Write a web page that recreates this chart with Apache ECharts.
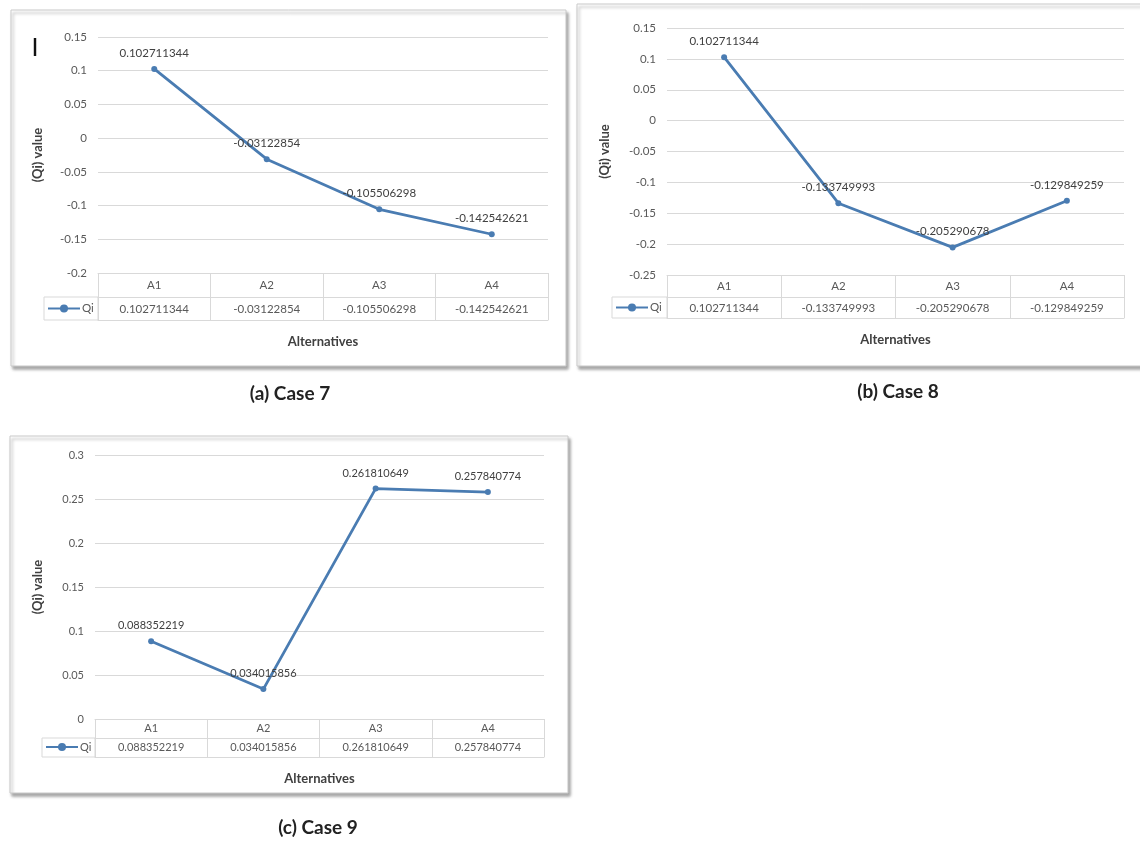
<!DOCTYPE html>
<html>
<head>
<meta charset="utf-8">
<title>Qi value by alternative</title>
<script src="https://cdn.jsdelivr.net/npm/echarts@6/dist/echarts.min.js"></script>
<style>
  html, body { margin: 0; padding: 0; background: #ffffff; }
  #chart { width: 1140px; height: 843px; }
</style>
</head>
<body>
<div id="chart"></div>
<script>
// Alternatives compared in every case
const categories = ['A1', 'A2', 'A3', 'A4'];

// Qi values per case
const qiCase7 = [0.102711344, -0.03122854, -0.105506298, -0.142542621];
const qiCase8 = [0.102711344, -0.133749993, -0.205290678, -0.129849259];
const qiCase9 = [0.088352219, 0.034015856, 0.261810649, 0.257840774];

// Value-axis ranges per case: [min, max, step]
const axisCase7 = [-0.2, 0.15, 0.05];
const axisCase8 = [-0.25, 0.15, 0.05];
const axisCase9 = [0, 0.3, 0.05];

// Panel captions
const captions = ['(a) Case 7', '(b) Case 8', '(c) Case 9'];
const seriesName = 'Qi';
const xTitle = 'Alternatives';
const yTitle = '(Qi) value';

const LINE = '#4a7cb2';
const GRIDC = '#d9d9d9';
const TICKC = '#595959';
const FONT = 'Lato, "Liberation Sans", sans-serif';

// Layout of each panel (pixels)
const panels = [
  { values: qiCase7, axis: axisCase7, grid: { left: 98, top: 37, width: 450, height: 236 },
    rows: [24, 47], cellW: 54, nameGap: 54, frame: [11, 10, 555, 356], labelSize: 11.5,
    caption: [290, 394] },
  { values: qiCase8, axis: axisCase8, grid: { left: 667, top: 28, width: 457, height: 247 },
    rows: [22, 43], cellW: 55, nameGap: 56, frame: [577, 4, 575, 362], labelSize: 11.5,
    caption: [898, 392] },
  { values: qiCase9, axis: axisCase9, grid: { left: 95, top: 455, width: 449, height: 264 },
    rows: [19, 38], cellW: 53, nameGap: 51, frame: [10, 436, 558, 357], labelSize: 11,
    caption: [318, 828] }
];

const option = {
  backgroundColor: '#ffffff',
  animation: false,
  textStyle: { fontFamily: FONT },
  grid: [], xAxis: [], yAxis: [], series: [], legend: [], graphic: []
};

panels.forEach((p, i) => {
  const g = p.grid;
  const gridBottom = g.top + g.height;
  option.grid.push({ left: g.left, top: g.top, width: g.width, height: g.height, containLabel: false });

  // header row of the data table (category names) with cell borders as ticks
  option.xAxis.push({
    type: 'category', gridIndex: i, data: categories, position: 'bottom', boundaryGap: true,
    axisLine: { show: true, onZero: false, lineStyle: { color: GRIDC, width: 1 } },
    axisTick: { show: true, length: p.rows[1], lineStyle: { color: GRIDC, width: 1 } },
    axisLabel: { color: TICKC, fontSize: p.labelSize, margin: Math.round(p.rows[0] / 2 - 6) },
    splitLine: { show: false }
  });
  // value row of the data table
  option.xAxis.push({
    type: 'category', gridIndex: i, data: p.values.map(v => String(v)), position: 'bottom',
    offset: p.rows[0], boundaryGap: true,
    axisLine: { show: true, onZero: false, lineStyle: { color: GRIDC, width: 1 } },
    axisTick: { show: false },
    axisLabel: { color: TICKC, fontSize: p.labelSize, margin: Math.round((p.rows[1] - p.rows[0]) / 2 - 6) },
    splitLine: { show: false }
  });
  // bottom border of the table, carrying the axis title
  option.xAxis.push({
    type: 'category', gridIndex: i, data: categories, position: 'bottom',
    offset: p.rows[1], boundaryGap: true,
    axisLine: { show: true, onZero: false, lineStyle: { color: GRIDC, width: 1 } },
    axisTick: { show: false }, axisLabel: { show: false }, splitLine: { show: false },
    name: xTitle, nameLocation: 'middle', nameGap: 15,
    nameTextStyle: { fontWeight: 'bold', fontSize: 13, color: '#404040', fontFamily: FONT }
  });

  option.yAxis.push({
    type: 'value', gridIndex: i, min: p.axis[0], max: p.axis[1], interval: p.axis[2],
    axisLine: { show: false }, axisTick: { show: false },
    axisLabel: { color: TICKC, fontSize: p.labelSize, margin: 11 },
    splitLine: { show: true, lineStyle: { color: GRIDC, width: 1 } },
    name: yTitle, nameLocation: 'middle', nameGap: p.nameGap, nameRotate: 90,
    nameTextStyle: { fontWeight: 'bold', fontSize: 13, color: '#404040', fontFamily: FONT }
  });

  option.series.push({
    name: seriesName, type: 'line', xAxisIndex: i * 3, yAxisIndex: i,
    data: p.values, symbol: 'circle', symbolSize: 6,
    lineStyle: { color: LINE, width: 2.8 },
    itemStyle: { color: LINE },
    label: { show: true, position: 'top', distance: 7, color: '#404040', fontSize: p.labelSize,
             formatter: (d) => String(d.value) },
    z: 5
  });

  // legend key inside the table's left cell
  const cellX = g.left - p.cellW;
  const cellY = gridBottom + p.rows[0];
  const cellH = p.rows[1] - p.rows[0];
  option.legend.push({
    data: [seriesName], left: cellX + 3, top: cellY + cellH / 2 - 6,
    itemWidth: 32, itemHeight: 10, itemGap: 2, padding: 0,
    textStyle: { color: TICKC, fontSize: p.labelSize, padding: [0, 0, 0, -3] },
    selectedMode: false
  });

  option.graphic.push({
    type: 'rect', z: -10, silent: true,
    shape: { x: p.frame[0], y: p.frame[1], width: p.frame[2], height: p.frame[3] },
    style: { fill: '#ffffff', stroke: '#c9c9c9', lineWidth: 1,
             shadowColor: 'rgba(0,0,0,0.35)', shadowBlur: 3, shadowOffsetX: 2, shadowOffsetY: 3 }
  });
  option.graphic.push({
    type: 'rect', z: 1, silent: true,
    shape: { x: cellX, y: cellY, width: p.cellW, height: cellH },
    style: { fill: 'transparent', stroke: GRIDC, lineWidth: 1 }
  });
  option.graphic.push({
    type: 'text', z: 1, silent: true, x: p.caption[0], y: p.caption[1],
    style: { text: captions[i], fill: '#222222', font: 'bold 19px ' + FONT,
             textAlign: 'center', textVerticalAlign: 'middle' }
  });
});

// stray cursor mark in the first panel
option.graphic.push({
  type: 'text', z: 1, silent: true, x: 35, y: 48,
  style: { text: 'I', fill: '#111111', font: '25px ' + FONT, textAlign: 'center', textVerticalAlign: 'middle' }
});

const chart = echarts.init(document.getElementById('chart'), null, { renderer: 'canvas' });
chart.setOption(option);
</script>
</body>
</html>
